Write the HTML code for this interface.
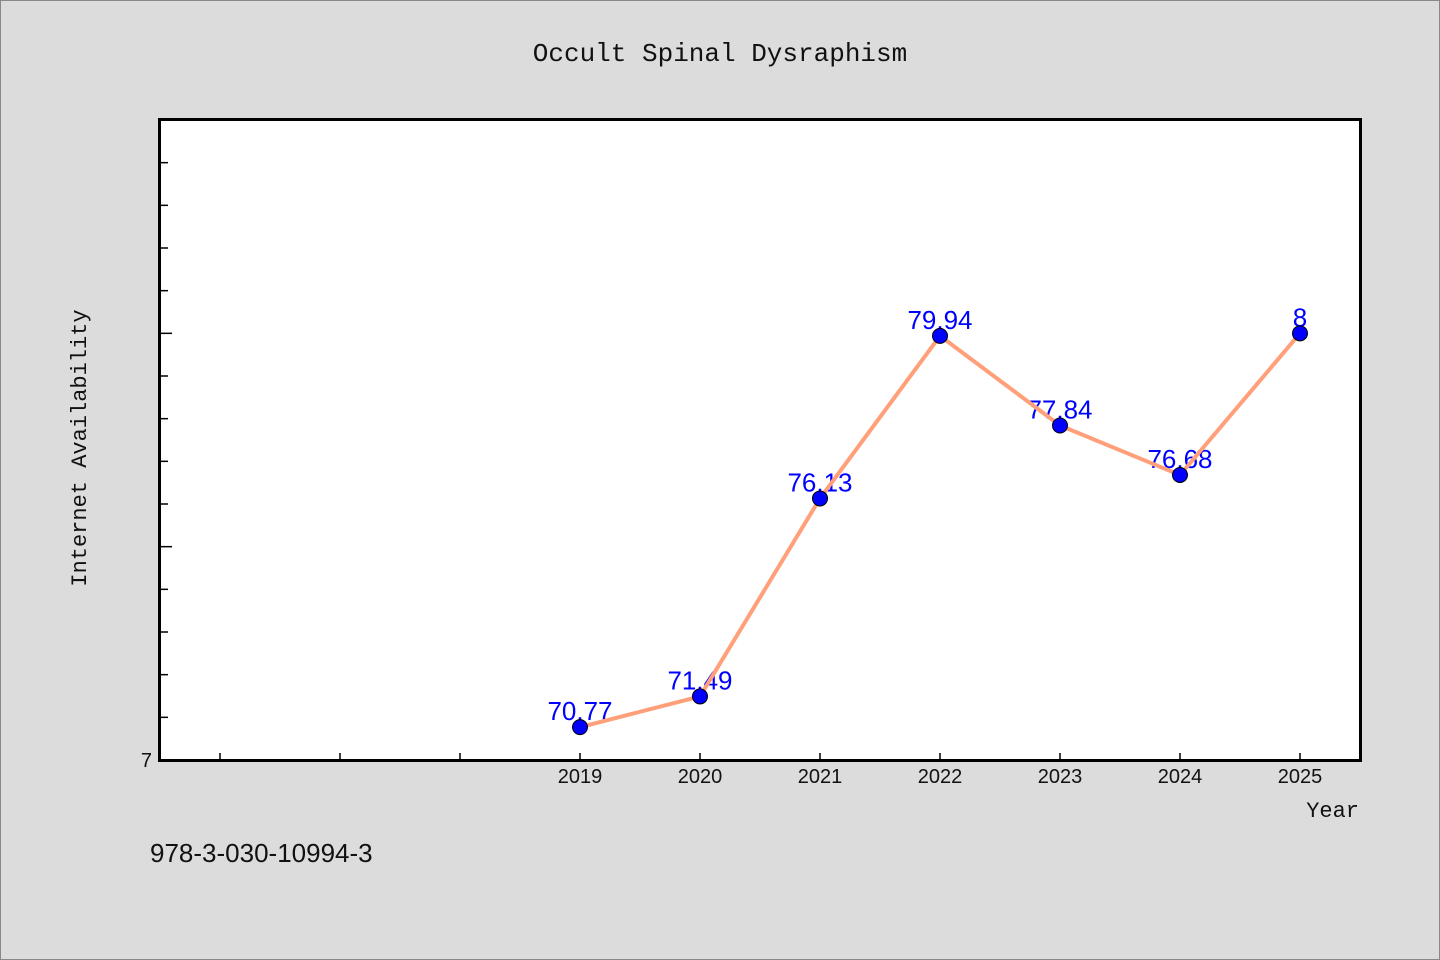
<!DOCTYPE html>
<html><head><meta charset="utf-8"><style>
html,body{margin:0;padding:0;background:#dcdcdc;}
svg{display:block;}
</style></head><body>
<svg id="chart" width="1440" height="960" xmlns="http://www.w3.org/2000/svg">
<rect x="0.5" y="0.5" width="1439" height="959" fill="#dcdcdc" stroke="#888"/>
<text x="720" y="61" text-anchor="middle" font-family="'WenQuanYi Zen Hei','Liberation Mono',monospace" font-size="26" fill="#111">Occult Spinal Dysraphism</text>
<rect x="159.5" y="119.5" width="1201" height="641" fill="#fff" stroke="none"/>
<g id="ticks"></g>
<g id="series"></g>
<rect x="159.5" y="119.5" width="1201" height="641" fill="none" stroke="#000" stroke-width="3"/>
<text x="86" y="448" text-anchor="middle" transform="rotate(-90 86 448)" font-family="'WenQuanYi Zen Hei','Liberation Mono',monospace" font-size="22" fill="#111">Internet Availability</text>
<text x="1359" y="817" text-anchor="end" font-family="'WenQuanYi Zen Hei','Liberation Mono',monospace" font-size="22" fill="#111">Year</text>
<text x="150" y="862" font-family="'WenQuanYi Zen Hei','Liberation Sans',sans-serif" font-size="26" fill="#111">978-3-030-10994-3</text>
</svg>
<script>
const years = [2019, 2020, 2021, 2022, 2023, 2024, 2025];
const values = [70.77, 71.49, 76.13, 79.94, 77.84, 76.68, 80];
const valueLabels = ["70.77", "71.49", "76.13", "79.94", "77.84", "76.68", "8"];
const minorXTicks = [2016, 2017, 2018];
const yTickValues = [71,72,73,74,75,76,77,78,79,80,81,82,83,84];
const yMin = 70, yMax = 85, xMin = 2015.5, xMax = 2025.5;
const L = 160, R = 1360, T = 120, B = 760;
const NS = "http://www.w3.org/2000/svg";
function xs(v){ return L + (v - xMin) / (xMax - xMin) * (R - L); }
function ys(v){ return B - (v - yMin) / (yMax - yMin) * (B - T); }
function mk(tag, attrs, parent){ const e = document.createElementNS(NS, tag); for (const k in attrs) e.setAttribute(k, attrs[k]); parent.appendChild(e); return e; }
const tg = document.getElementById('ticks'), sg = document.getElementById('series');
const font = "'WenQuanYi Zen Hei','Liberation Sans',sans-serif";
yTickValues.forEach(v => {
  const len = (v % 5 === 0) ? 12 : 8;
  const t = mk('line', {x1: L, x2: L + len, y1: ys(v), y2: ys(v), stroke: '#000', 'stroke-width': 1.5}, tg);
  
  
});
const y0 = mk('text', {x: 152, y: ys(yMin) + 7, 'text-anchor': 'end', 'font-family': font, 'font-size': 20, fill: '#111'}, tg);
y0.textContent = '7';


minorXTicks.concat(years).forEach(v => {
  const t = mk('line', {x1: xs(v), x2: xs(v), y1: B, y2: B - 7, stroke: '#000', 'stroke-width': 1.5}, tg);
  
  
});
years.forEach(v => {
  const t = mk('text', {x: xs(v), y: B + 23, 'text-anchor': 'middle', 'font-family': font, 'font-size': 20, fill: '#111'}, tg);
  t.textContent = String(v);
  
  
});
years.forEach((yr, i) => {
  const t = mk('text', {x: xs(yr), y: ys(values[i]) - 7, 'text-anchor': 'middle', 'font-family': font, 'font-size': 26, fill: '#0000ff'}, sg);
  t.textContent = valueLabels[i];
  
  
});
const pts = years.map((yr, i) => xs(yr) + ',' + ys(values[i])).join(' ');
const line = mk('polyline', {points: pts, fill: 'none', stroke: '#ffa07a', 'stroke-width': 4, 'stroke-linejoin': 'round'}, sg);


years.forEach((yr, i) => {
  const c = mk('circle', {cx: xs(yr), cy: ys(values[i]), r: 7.5, fill: '#0000ff', stroke: '#000', 'stroke-width': 1}, sg);
  
  
});
</script>
</body></html>
